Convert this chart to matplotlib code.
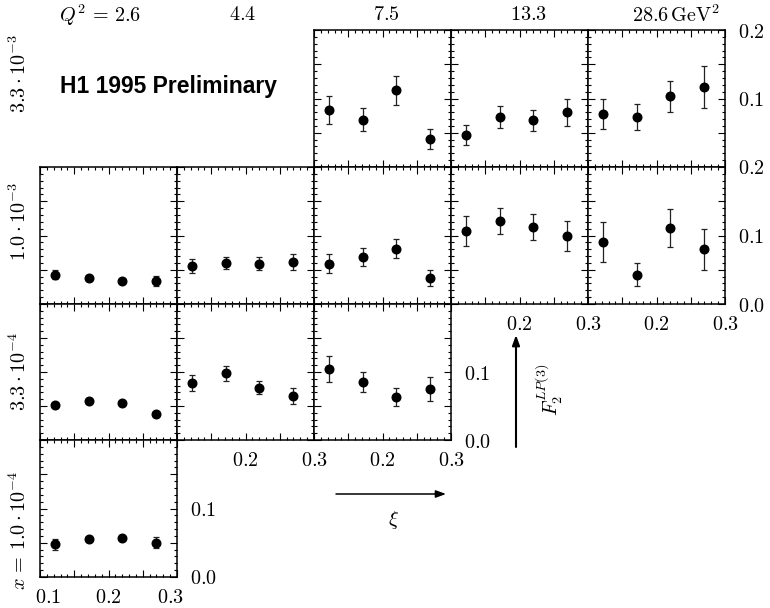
import matplotlib.pyplot as plt
from matplotlib.ticker import FixedLocator, MultipleLocator, FixedFormatter
import matplotlib.transforms as mtrans

plt.rcParams["mathtext.fontset"] = "cm"

W, H = 770, 608
# panel grid in image pixels (left/right and top/bottom edges)
COL_EDGES = [40, 177, 314, 451, 588, 725]
ROW_EDGES = [30, 167, 304, 440, 577]

# ── Data ─────────────────────────────────────────────────────────────────────
XI = [0.122, 0.171, 0.220, 0.269]

Q2_LABELS = [r"$Q^2\, =\, 2.6$", r"$4.4$", r"$7.5$", r"$13.3$", r"$28.6\,\mathrm{GeV}^2$"]
X_LABELS = [r"$3.3\cdot10^{-3}$", r"$1.0\cdot10^{-3}$",
            r"$3.3\cdot10^{-4}$", r"$x\, =\, 1.0\cdot10^{-4}$"]

# x = 3.3e-3 : Q2 = 7.5, 13.3, 28.6
F2_X33E3 = [[0.083, 0.069, 0.112, 0.041],
            [0.047, 0.073, 0.068, 0.080],
            [0.078, 0.073, 0.103, 0.117]]
ERR_X33E3 = [[0.020, 0.017, 0.021, 0.015],
             [0.015, 0.016, 0.015, 0.020],
             [0.022, 0.019, 0.022, 0.031]]

# x = 1.0e-3 : Q2 = 2.6 ... 28.6
F2_X10E3 = [[0.043, 0.038, 0.034, 0.034],
            [0.055, 0.060, 0.059, 0.061],
            [0.059, 0.069, 0.081, 0.038],
            [0.107, 0.121, 0.113, 0.099],
            [0.090, 0.043, 0.111, 0.080]]
ERR_X10E3 = [[0.007, 0.003, 0.003, 0.007],
             [0.010, 0.009, 0.009, 0.012],
             [0.014, 0.013, 0.014, 0.012],
             [0.022, 0.019, 0.019, 0.022],
             [0.029, 0.017, 0.028, 0.030]]

# x = 3.3e-4 : Q2 = 2.6, 4.4, 7.5
F2_X33E4 = [[0.051, 0.058, 0.054, 0.038],
            [0.084, 0.098, 0.077, 0.065],
            [0.105, 0.085, 0.063, 0.075]]
ERR_X33E4 = [[0.003, 0.003, 0.003, 0.003],
             [0.012, 0.011, 0.010, 0.012],
             [0.019, 0.015, 0.013, 0.018]]

# x = 1.0e-4 : Q2 = 2.6
F2_X10E4 = [[0.048, 0.056, 0.057, 0.050]]
ERR_X10E4 = [[0.008, 0.003, 0.003, 0.008]]

# (first column, values, errors) per x row
ROWS = [(2, F2_X33E3, ERR_X33E3),
        (0, F2_X10E3, ERR_X10E3),
        (0, F2_X33E4, ERR_X33E4),
        (0, F2_X10E4, ERR_X10E4)]

# right-hand y labels per row
Y_TICKLABELS = [["", "", "$0.1$", "", "$0.2$"],
                ["$0.0$", "", "$0.1$", "", "$0.2$"],
                ["$0.0$", "", "$0.1$", "", ""],
                ["$0.0$", "", "$0.1$", "", ""]]

# text positions (image pixels)
Q2_LABEL_X = [100, 243, 386, 528, 676]
X_LABEL_Y = [74, 222, 372, 530]
FS = 14.5


def fpx(x, y):
    return x / W, 1 - y / H


fig = plt.figure(figsize=(W / 100, H / 100), dpi=100)
fig.patch.set_facecolor("white")

for r, (c0, vals, errs) in enumerate(ROWS):
    for k in range(len(vals)):
        c = c0 + k
        left, top = fpx(COL_EDGES[c], ROW_EDGES[r])
        right, bottom = fpx(COL_EDGES[c + 1], ROW_EDGES[r + 1])
        ax = fig.add_axes([left, bottom, right - left, top - bottom])

        ax.errorbar(XI, vals[k], yerr=errs[k], fmt="o", color="black", ms=6.2,
                    elinewidth=0.9, capsize=2.2, capthick=0.9, ecolor="#222222")
        ax.set_xlim(0.1, 0.3)
        ax.set_ylim(0.0, 0.2)

        ax.xaxis.set_major_locator(FixedLocator([0.1, 0.15, 0.2, 0.25, 0.3]))
        ax.xaxis.set_minor_locator(MultipleLocator(0.01))
        ax.yaxis.set_major_locator(FixedLocator([0.0, 0.05, 0.1, 0.15, 0.2]))
        ax.yaxis.set_minor_locator(MultipleLocator(0.01))

        has_below = False
        if r + 1 < len(ROWS):
            nc0, nvals, _ = ROWS[r + 1]
            has_below = nc0 <= c < nc0 + len(nvals)
        last_in_row = k == len(vals) - 1

        if c == 0:
            xl = ["$0.1$", "", "$0.2$", "", "$0.3$"]
        else:
            xl = ["", "", "$0.2$", "", "$0.3$"]
        ax.xaxis.set_major_formatter(FixedFormatter(xl))
        ax.yaxis.set_major_formatter(FixedFormatter(Y_TICKLABELS[r]))

        ax.tick_params(which="both", direction="in", top=True, bottom=True,
                       left=True, right=True, labelleft=False,
                       labelbottom=not has_below, labelright=last_in_row,
                       width=0.8, color="black", labelsize=FS)
        ax.tick_params(which="major", length=5)
        ax.tick_params(which="minor", length=2.5)
        ax.tick_params(axis="x", pad=8)
        ax.tick_params(axis="y", pad=9)
        for s in ax.spines.values():
            s.set_linewidth(1.1)

        # bottom-left panel: edge labels pulled inwards
        if c == 0 and not has_below:
            ticks = ax.xaxis.get_major_ticks()
            for t, dx in [(ticks[0], 8), (ticks[-1], -7)]:
                off = mtrans.ScaledTranslation(dx / 100, 0, fig.dpi_scale_trans)
                t.label1.set_transform(t.label1.get_transform() + off)

# column headers and row labels
for x, lab in zip(Q2_LABEL_X, Q2_LABELS):
    fig.text(*fpx(x, 15), lab, ha="center", va="center", fontsize=FS)
for y, lab in zip(X_LABEL_Y, X_LABELS):
    fig.text(*fpx(19, y), lab, ha="center", va="center", fontsize=FS, rotation=90)

fig.text(*fpx(60, 86), "H1 1995 Preliminary", family="Liberation Sans",
         fontweight="bold", fontsize=16.5, ha="left", va="center")

# axis arrows
arrow = dict(arrowstyle="-|>,head_length=0.6,head_width=0.22", color="black",
             lw=1.5, shrinkA=0, shrinkB=0)
fig.add_artist(plt.Annotation("", xy=fpx(516, 335), xytext=fpx(516, 447),
                              xycoords="figure fraction", arrowprops=arrow))
fig.add_artist(plt.Annotation("", xy=fpx(446, 494), xytext=fpx(336, 494),
                              xycoords="figure fraction", arrowprops=dict(arrow, lw=1.1)))
fig.text(*fpx(549, 390), r"$F_2^{LP(3)}$", ha="center", va="center",
         fontsize=FS, rotation=90)
fig.text(*fpx(394, 520), r"$\xi$", ha="center", va="center", fontsize=FS)

fig.savefig("out.png", dpi=100, facecolor="white")
